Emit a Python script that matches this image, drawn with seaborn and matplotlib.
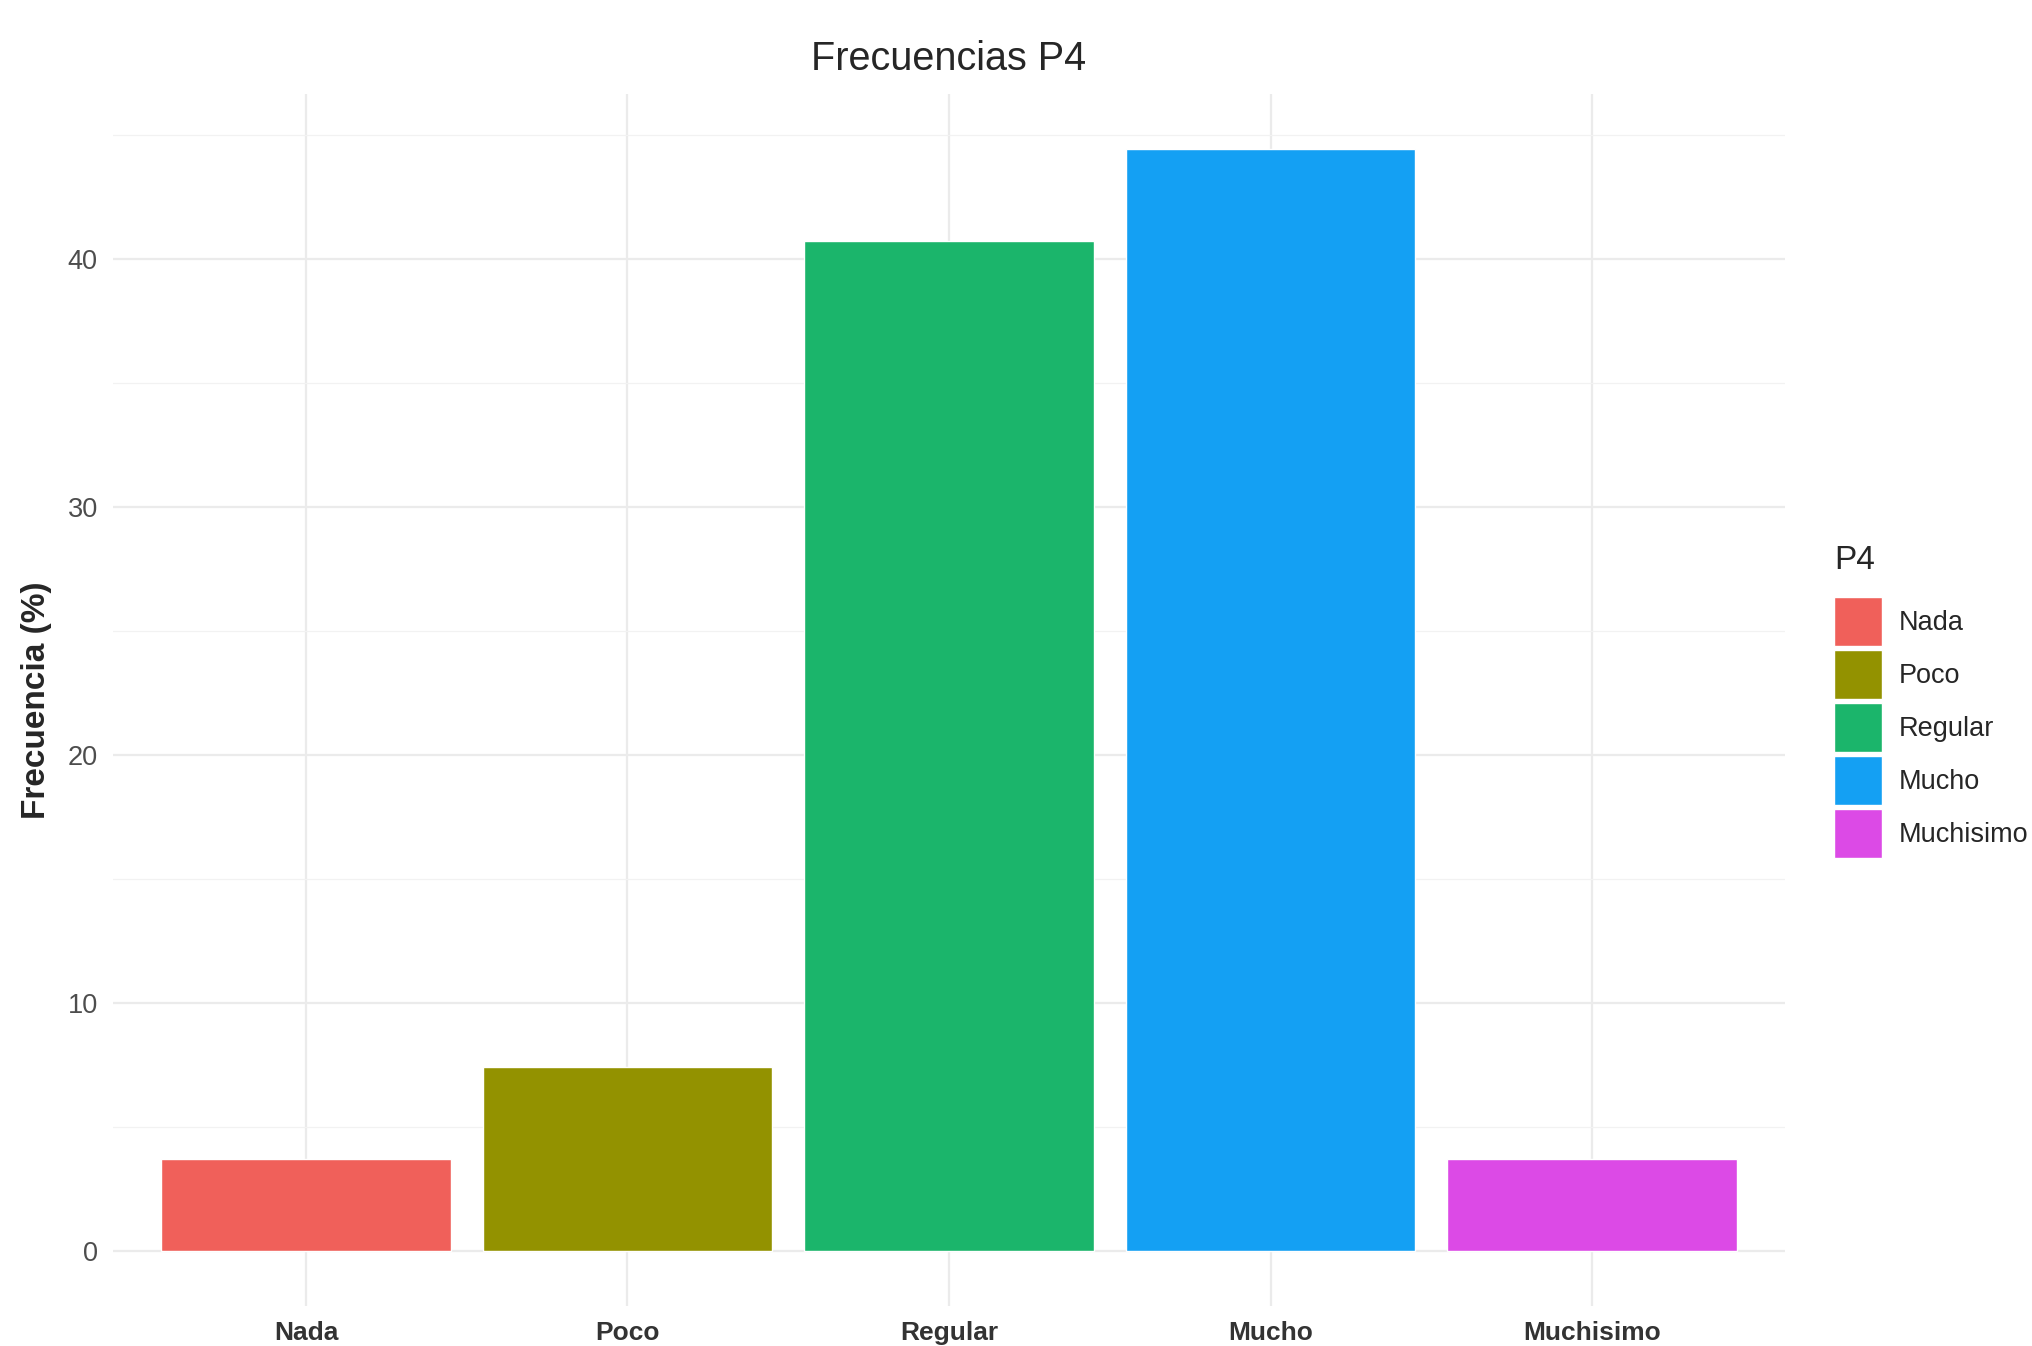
import matplotlib
matplotlib.use("Agg")
import matplotlib.pyplot as plt
import seaborn as sns
import pandas as pd

# datos (porcentajes)
categorias = ["Nada", "Poco", "Regular", "Mucho", "Muchisimo"]
frecuencias = [3.70, 7.41, 40.74, 44.44, 3.70]
colores = ["#F0605A", "#939200", "#1BB56B", "#14A0F3", "#DC4AE6"]
y_ticks = [0, 10, 20, 30, 40]
y_minor = [5, 15, 25, 35, 45]

sns.set_style("white")
plt.rcParams["font.family"] = ["Liberation Sans", "DejaVu Sans"]

df = pd.DataFrame({"P4": categorias, "Frecuencia": frecuencias})

fig = plt.figure(figsize=(20.33, 13.46), dpi=100)
ax = fig.add_axes([0.0556, 0.0297, 0.8224, 0.9005])

sns.barplot(data=df, x="P4", y="Frecuencia", hue="P4", palette=colores,
            saturation=1, width=0.9, ax=ax, legend=True)

top = max(frecuencias)
ax.set_xlim(-0.6, len(categorias) - 0.4)
ax.set_ylim(-0.05 * top, 1.05 * top)
ax.set_yticks(y_ticks)
ax.set_yticks(y_minor, minor=True)
ax.set_axisbelow(True)
ax.grid(which="major", color="#EBEBEB", linewidth=1.6)
ax.grid(which="minor", axis="y", color="#F2F2F2", linewidth=0.9)
for s in ax.spines.values():
    s.set_visible(False)
ax.tick_params(which="both", length=0)
ax.tick_params(axis="y", labelsize=19.5, labelcolor="#4D4D4D", pad=11)
ax.tick_params(axis="x", labelsize=19, labelcolor="#333333", pad=11)
for t in ax.get_xticklabels():
    t.set_fontweight("bold")

ax.set_xlabel("")
ax.set_ylabel("Frecuencia (%)", fontsize=24, fontweight="bold")
ax.yaxis.set_label_coords(-0.0365, 0.5)
ax.set_title("Frecuencias P4", fontsize=28.5, pad=17)

handles, labels = ax.get_legend_handles_labels()
leg = ax.legend(handles, labels, title="P4", loc="upper left",
                bbox_to_anchor=(0.902, 0.595), bbox_transform=fig.transFigure,
                frameon=False, fontsize=19.5, title_fontsize=24, alignment="left",
                handlelength=1.77, handleheight=2.40, labelspacing=0.15,
                handletextpad=0.62, borderpad=0, borderaxespad=0)
leg._legend_box.sep = 15

fig.savefig("out.png", dpi=100, facecolor="white")
